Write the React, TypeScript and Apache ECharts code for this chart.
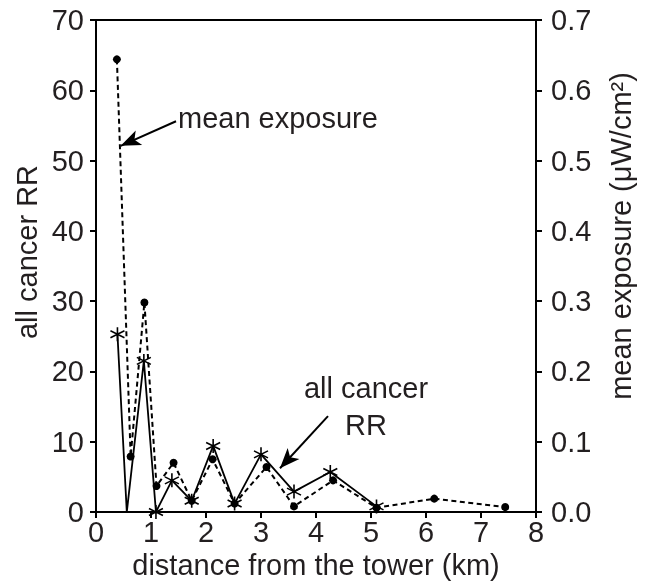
import React, { useEffect, useRef } from "react";
import * as echarts from "echarts";

// distance from the tower (km) and all cancer RR
const rrDistance = [0.39, 0.56, 0.87, 1.09, 1.38, 1.74, 2.13, 2.52, 3.0, 3.6, 4.26, 5.1];
const rrValues = [25.3, 0, 21.5, 0, 4.5, 1.6, 9.4, 1.2, 8.2, 2.9, 5.7, 0.8];

// distance from the tower (km) and mean exposure (µW/cm²)
const expDistance = [0.38, 0.63, 0.88, 1.1, 1.41, 1.74, 2.12, 2.52, 3.1, 3.6, 4.31, 5.1, 6.15, 7.44];
const expValues = [0.644, 0.079, 0.298, 0.037, 0.07, 0.016, 0.075, 0.012, 0.064, 0.008, 0.045, 0.006, 0.019, 0.007];

// annotation arrows, [start, tip] in data coordinates (left axis)
const exposureArrow = [[1.455, 55.6], [0.449, 52.1]];
const rrArrow = [[4.218, 13.64], [3.345, 6.23]];

const FONT = "'Liberation Sans', Arial, Helvetica, sans-serif";
const TXT = "#231f20";
const FS = 29;

const STAR = "path://M10 0 L10 20 M1.34 5 L18.66 15 M1.34 15 L18.66 5";

export default function App() {
  const ref = useRef<HTMLDivElement>(null);
  useEffect(() => {
    if (!ref.current) return;
    const chart = echarts.init(ref.current, null, { renderer: "svg" });
    const rrData = rrDistance.map((d, i) =>
      rrValues[i] === 0 && i === 1 ? { value: [d, rrValues[i]], symbol: "none" } : [d, rrValues[i]]
    );
    const expData = expDistance.map((d, i) => [d, expValues[i]]);
    chart.setOption({
      animation: false,
      grid: { left: 96, right: 110, top: 20, bottom: 74, show: true, borderColor: "#000", borderWidth: 2, backgroundColor: "transparent" },
      xAxis: {
        type: "value",
        min: 0,
        max: 8,
        interval: 1,
        splitLine: { show: false },
        axisLine: { lineStyle: { color: "#000", width: 2 } },
        axisTick: { length: 6, lineStyle: { color: "#000", width: 2 } },
        axisLabel: { color: TXT, fontSize: FS, fontFamily: FONT, margin: 5 },
      },
      yAxis: [
        {
          type: "value",
          min: 0,
          max: 70,
          interval: 10,
          splitLine: { show: false },
          axisLine: { show: true, lineStyle: { color: "#000", width: 2 } },
          axisTick: { show: true, length: 6, lineStyle: { color: "#000", width: 2 } },
          axisLabel: { color: TXT, fontSize: FS, fontFamily: FONT, margin: 12 },
        },
        {
          type: "value",
          min: 0,
          max: 0.7,
          interval: 0.1,
          position: "right",
          splitLine: { show: false },
          axisLine: { show: true, lineStyle: { color: "#000", width: 2 } },
          axisTick: { show: true, length: 6, lineStyle: { color: "#000", width: 2 } },
          axisLabel: { color: TXT, fontSize: FS, fontFamily: FONT, margin: 15, formatter: (v: number) => v.toFixed(1) },
        },
      ],
      series: [
        {
          type: "line",
          yAxisIndex: 1,
          data: expData,
          symbol: "circle",
          symbolSize: 8,
          itemStyle: { color: "#000" },
          lineStyle: { color: "#000", width: 2, type: [5, 3.5] },
          z: 3,
        },
        {
          type: "line",
          yAxisIndex: 0,
          data: rrData,
          symbol: STAR,
          symbolSize: 14,
          itemStyle: { color: "#000", borderColor: "#000", borderWidth: 1.6 },
          lineStyle: { color: "#000", width: 1.8 },
          z: 2,
          markLine: {
            silent: true,
            label: { show: false },
            lineStyle: { color: "#000", width: 2, type: "solid" },
            symbolSize: [12, 20],
            data: [
              [
                { coord: exposureArrow[0], symbol: "none" },
                { coord: exposureArrow[1], symbol: "arrow" },
              ],
              [
                { coord: rrArrow[0], symbol: "none" },
                { coord: rrArrow[1], symbol: "arrow" },
              ],
            ],
          },
        },
      ],
      graphic: [
        {
          type: "text",
          x: 27,
          y: 252,
          rotation: Math.PI / 2,
          style: { text: "all cancer RR", fill: TXT, font: `${FS}px ${FONT}`, align: "center", verticalAlign: "middle" },
        },
        {
          type: "text",
          x: 621,
          y: 236,
          rotation: Math.PI / 2,
          style: { text: "mean exposure (μW/cm²)", fill: TXT, font: `${FS}px ${FONT}`, align: "center", verticalAlign: "middle" },
        },
        {
          type: "text",
          x: 316,
          y: 565,
          style: { text: "distance from the tower (km)", fill: TXT, font: `${FS}px ${FONT}`, align: "center", verticalAlign: "middle" },
        },
        {
          type: "text",
          x: 178,
          y: 118,
          style: { text: "mean exposure", fill: TXT, font: `${FS}px ${FONT}`, align: "left", verticalAlign: "middle" },
        },
        {
          type: "text",
          x: 366,
          y: 406,
          style: { text: "all cancer\nRR", fill: TXT, font: `${FS}px ${FONT}`, align: "center", verticalAlign: "middle", lineHeight: 37 },
        },
      ],
    });
    return () => chart.dispose();
  }, []);
  return <div ref={ref} style={{ position: "fixed", left: 0, top: 0, width: 646, height: 586 }} />;
}
